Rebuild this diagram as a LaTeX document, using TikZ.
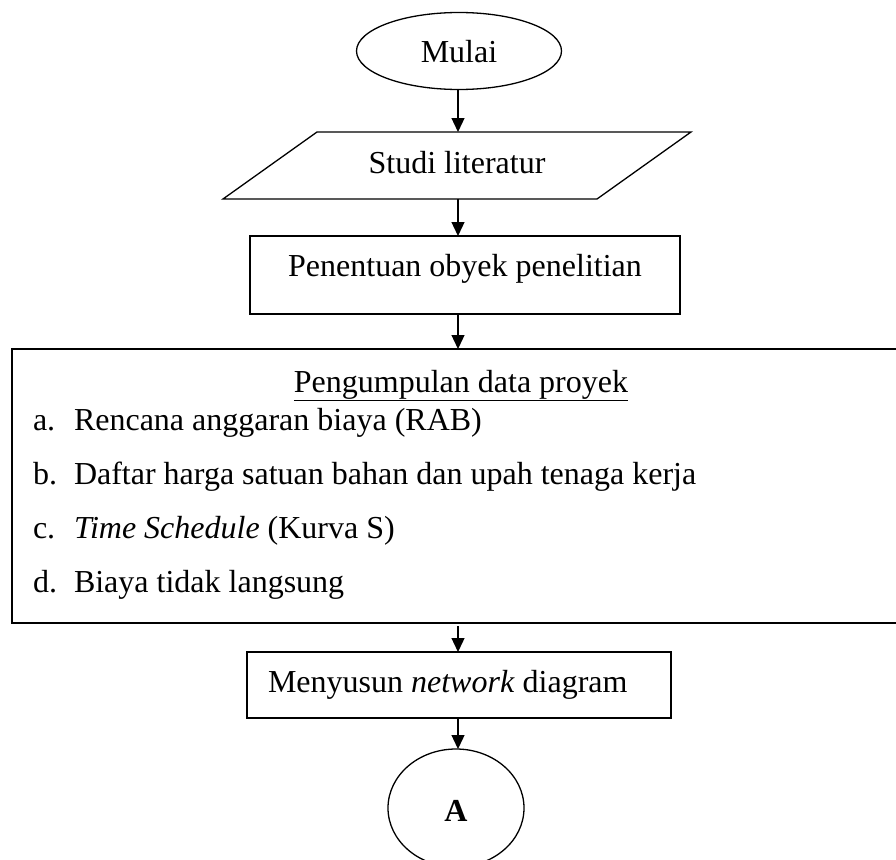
\documentclass[tikz,border=0pt]{standalone}
\usepackage{fontspec}
\setmainfont{Liberation Serif}
\usetikzlibrary{shapes.geometric,arrows.meta}
\begin{document}
\begin{tikzpicture}[x=1pt,y=-1pt,
  shapebox/.style={draw,line width=1.3pt,inner sep=0pt,outer sep=0pt},
  ghost/.style={inner sep=0pt,outer sep=0pt},
  txt/.style={inner sep=0pt,outer sep=0pt,font=\fontsize{32}{38}\selectfont},
  arr/.style={line width=1.3pt,-{Triangle[width=13pt,length=14pt]}}]
\useasboundingbox (0,0) rectangle (896,859);
\coordinate (col) at (458,0);
% Mulai
\node[shapebox,ellipse,minimum width=205pt,minimum height=77pt] (mulai) at (459,51) {};
\node[txt,anchor=base] (mulaiT) at (459,63) {Mulai};
% Studi literatur (parallelogram)
\node[ghost,minimum width=374pt,minimum height=67pt] (studi) at (457,165.5) {};
\draw[line width=1.3pt,line join=miter] ([xshift=-47pt]studi.south west) -- ([xshift=47pt]studi.north west)
  -- ([xshift=47pt]studi.north east) -- ([xshift=-47pt]studi.south east) -- cycle;
\node[txt,anchor=base] (studiT) at (457,173) {Studi literatur};
% Penentuan
\node[shapebox,rectangle,minimum width=430pt,minimum height=78pt] (penentuan) at (465,275) {};
\node[txt,anchor=base] (penentuanT) at (465,276) {Penentuan obyek penelitian};
% Pengumpulan data
\node[shapebox,rectangle,minimum width=908pt,minimum height=274pt] (data) at (466,486) {};
\node[txt,anchor=base] (title) at (461,392) {\underline{Pengumpulan data proyek}};
\node[txt,anchor=base west] (la) at (33,430) {a.};
\node[txt,anchor=base west] (ta) at (74,430) {Rencana anggaran biaya (RAB)};
\node[txt,anchor=base west] (lb) at (33,484) {b.};
\node[txt,anchor=base west] (tb) at (74,484) {Daftar harga satuan bahan dan upah tenaga kerja};
\node[txt,anchor=base west] (lc) at (33,538) {c.};
\node[txt,anchor=base west] (tc) at (74,538) {\itshape Time Schedule\upshape{} (Kurva S)};
\node[txt,anchor=base west] (ld) at (33,592) {d.};
\node[txt,anchor=base west] (td) at (74,592) {Biaya tidak langsung};
% Menyusun
\node[shapebox,rectangle,minimum width=424pt,minimum height=66pt] (menyusun) at (459,685) {};
\node[txt,anchor=base west] (menyusunT) at (268,692) {Menyusun \textit{network} diagram};
% A
\node[shapebox,ellipse,minimum width=136pt,minimum height=118pt] (A) at (456,808) {};
\node[txt,anchor=base] (AT) at (456,821) {\bfseries A};
% arrows
\draw[arr] (mulai.south -| col) -- (studi.north -| col);
\draw[arr] (studi.south -| col) -- (penentuan.north -| col);
\draw[arr] (penentuan.south -| col) -- (data.north -| col);
\draw[arr] ([yshift=-3pt]data.south -| col) -- (menyusun.north -| col);
\draw[arr] (menyusun.south -| col) -- (A.north -| col);
\end{tikzpicture}
\end{document}
